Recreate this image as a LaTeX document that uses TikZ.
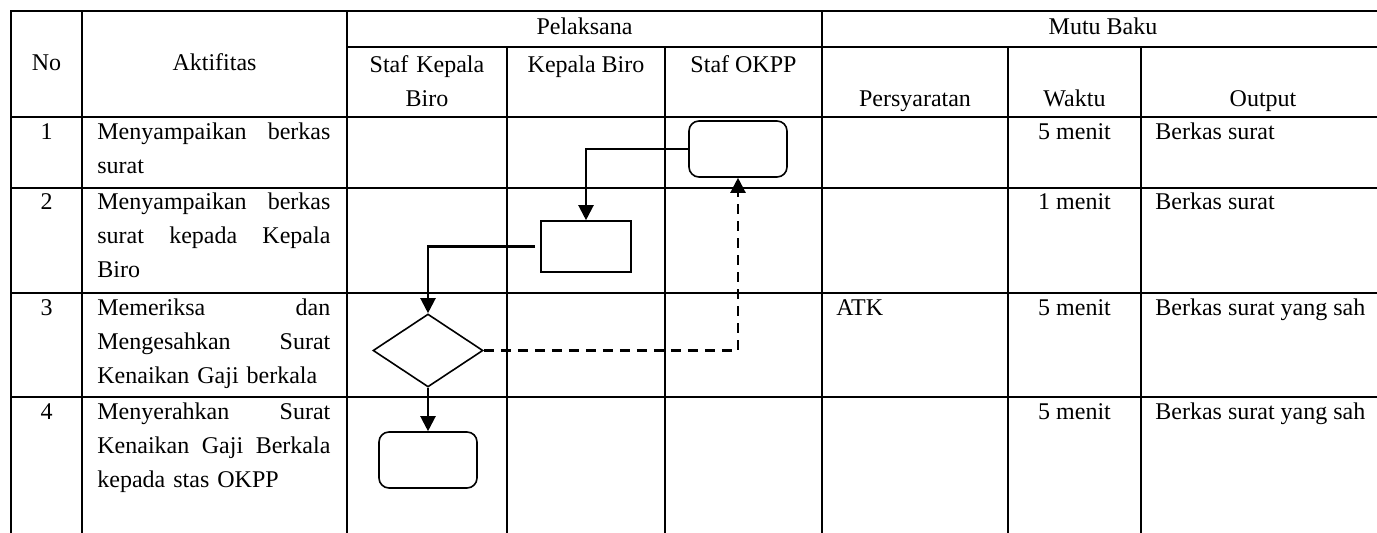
\documentclass[tikz,border=0pt]{standalone}
\usepackage{fontspec}
\setmainfont{Liberation Serif}
\usetikzlibrary{shapes.geometric,arrows.meta}
\tikzset{
  grid/.style={line width=1pt},
  txt/.style={font=\fontsize{12}{17}\selectfont,inner sep=0pt},
  mid/.style={txt,anchor=base},
  lft/.style={txt,anchor=base west},
  aktif/.style={txt,anchor=base west,text width=116.5pt,align=left},
  terminal/.style={draw,line width=0.8pt,rounded corners=5pt,minimum width=49pt,
    minimum height=28pt,inner sep=0pt},
  proses/.style={draw,line width=0.8pt,minimum width=45pt,minimum height=25.5pt,
    inner sep=0pt},
  keputusan/.style={draw,diamond,line width=0.8pt,minimum width=55pt,
    minimum height=36.5pt,inner sep=0pt},
  alur/.style={line width=1.1pt,-{Triangle[length=7.5pt,width=7.5pt]}},
  putus/.style={alur,dash pattern=on 5pt off 3.5pt}
}
\begin{document}
\begin{tikzpicture}[x=0.5pt,y=-0.5pt]
        \useasboundingbox (0,0) rectangle (1377,533);
        \clip (0,0) rectangle (1377,533);
        % tabel
        \draw[grid] (11,540) -- (11,11) -- (1385,11) -- (1385,540);
        \draw[grid] (347,47) -- (1385,47);
        \draw[grid] (11,117) -- (1385,117);
        \draw[grid] (11,188) -- (1385,188);
        \draw[grid] (11,293) -- (1385,293);
        \draw[grid] (11,397) -- (1385,397);
        \draw[grid] (82,11) -- (82,540);
        \draw[grid] (347,11) -- (347,540);
        \draw[grid] (507,47) -- (507,540);
        \draw[grid] (665,47) -- (665,540);
        \draw[grid] (822,11) -- (822,540);
        \draw[grid] (1008,47) -- (1008,540);
        \draw[grid] (1141,47) -- (1141,540);
        % kepala tabel
        \node[mid] at (46.5,71) (hno) {No};
        \node[mid] at (214.5,71) (hakt) {Aktifitas};
        \node[mid] at (584.5,35) (hpel) {Pelaksana};
        \node[mid] at (1103,35) (hmutu) {Mutu Baku};
        \node[mid,text width=75pt,align=center] at (427,73) (hskb) {Staf Kepala\\Biro};
        \node[mid] at (586,73) (hkb) {Kepala Biro};
        \node[mid] at (743.5,73) (hokpp) {Staf OKPP};
        \node[mid] at (915,107) (hsyarat) {Persyaratan};
        \node[mid] at (1074.5,107) (hwaktu) {Waktu};
        \node[mid] at (1263,107) (houtput) {Output};
        % baris 1
        \node[mid] at (46.5,140) (n1) {1};
        \node[aktif] at (97,140) (a1) {Menyampaikan\hfill berkas\\surat};
        \node[mid] at (1074.5,140) (w1) {5 menit};
        \node[lft] at (1155,140) (o1) {Berkas surat};
        % baris 2
        \node[mid] at (46.5,210) (n2) {2};
        \node[aktif] at (97,210) (a2) {Menyampaikan\hfill berkas\\surat\hfill kepada\hfill Kepala\\Biro};
        \node[mid] at (1074.5,210) (w2) {1 menit};
        \node[lft] at (1155,210) (o2) {Berkas surat};
        % baris 3
        \node[mid] at (46.5,316) (n3) {3};
        \node[aktif] at (97,316) (a3) {Memeriksa\hfill dan\\Mengesahkan\hfill Surat\\Kenaikan Gaji berkala};
        \node[lft] at (836,316) (s3) {ATK};
        \node[mid] at (1074.5,316) (w3) {5 menit};
        \node[lft] at (1155,316) (o3) {Berkas surat yang sah};
        % baris 4
        \node[mid] at (46.5,420) (n4) {4};
        \node[aktif] at (97,420) (a4) {Menyerahkan\hfill Surat\\Kenaikan\hfill Gaji\hfill Berkala\\kepada stas OKPP};
        \node[mid] at (1074.5,420) (w4) {5 menit};
        \node[lft] at (1155,420) (o4) {Berkas surat yang sah};
        % alur
        \node[terminal] at (738,149) (okpp1) {};
        \node[proses] at (586,246.5) (kb2) {};
        \node[keputusan] at (428,350.5) (dm3) {};
        \node[terminal] at (428,460) (skb4) {};
        \draw[alur] (okpp1.west) -| (kb2.north);
        \draw[alur,shorten <=2.5pt] (kb2.west) -| (dm3.north);
        \draw[alur] (dm3.south) -- (skb4.north);
        \draw[putus] (dm3.east) -| (okpp1.south);
    \end{tikzpicture}
\end{document}
